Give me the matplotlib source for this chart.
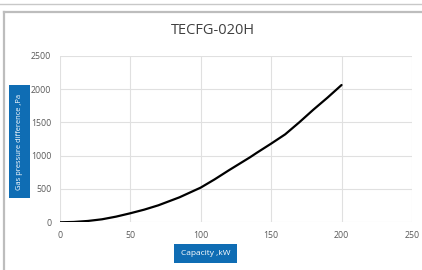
import matplotlib
matplotlib.use("Agg")
import matplotlib.pyplot as plt
from matplotlib.patches import Rectangle
from matplotlib.lines import Line2D

capacity = [0, 10, 20, 30, 40, 50, 60, 70, 80, 85, 100, 110, 120, 135, 140, 150, 160, 170, 180, 190, 200]
pressure = [0, 5, 20, 45, 85, 135, 190, 255, 335, 375, 520, 645, 780, 975, 1045, 1180, 1320, 1500, 1690, 1870, 2060]
x_ticks = [0, 50, 100, 150, 200, 250]
y_ticks = [0, 500, 1000, 1500, 2000, 2500]
title = "TECFG-020H"
x_label = "Capacity ,kW"
y_label = "Gas pressure difference ,Pa"

W, H = 422, 270
fig = plt.figure(figsize=(W / 100, H / 100), dpi=100)
plt.rcParams['font.family'] = ['Open Sans', 'DejaVu Sans']

def fx(px):
    return px / W

def fy(py):
    return 1 - py / H

# frame lines
fig.add_artist(Line2D([0, 1], [fy(4), fy(4)], color='#C8C8C8', lw=1.0))
fig.add_artist(Line2D([fx(3.5), 1], [fy(12.3), fy(12.3)], color='#BDBDBD', lw=1.6))
fig.add_artist(Line2D([fx(3.5), fx(3.5)], [fy(12.3), 0], color='#BDBDBD', lw=1.6))

ax = fig.add_axes([fx(59.7), fy(222.3), fx(412) - fx(59.7), fy(55.7) - fy(222.3)])
ax.plot(capacity, pressure, color='black', lw=1.6, solid_capstyle='round')
ax.set_xlim(0, 250)
ax.set_ylim(0, 2500)
ax.set_xticks(x_ticks)
ax.set_yticks(y_ticks)
ax.grid(True, color='#E0E0E0', lw=0.8)
ax.set_axisbelow(True)
for s in ax.spines.values():
    s.set_visible(False)
ax.tick_params(length=0, labelsize=6.3, labelcolor='#595959', pad=6)

fig.text(fx(213), fy(30), title, ha='center', va='center', fontsize=10.5, color='#404040')

blue = '#0F6DB4'
fig.add_artist(Rectangle((fx(9), fy(198)), fx(30) - fx(9), fy(85) - fy(198),
                         transform=fig.transFigure, facecolor=blue, edgecolor='none'))
fig.text(fx(19.5), fy(141.5), y_label, rotation=90, ha='center', va='center',
         fontsize=5.4, color='white')
fig.add_artist(Rectangle((fx(174), fy(263.3)), fx(236.7) - fx(174), fy(244) - fy(263.3),
                         transform=fig.transFigure, facecolor=blue, edgecolor='none'))
fig.text(fx(205.3), fy(253.6), x_label, ha='center', va='center',
         fontsize=6.0, color='white')

fig.savefig('out.png', dpi=100)
